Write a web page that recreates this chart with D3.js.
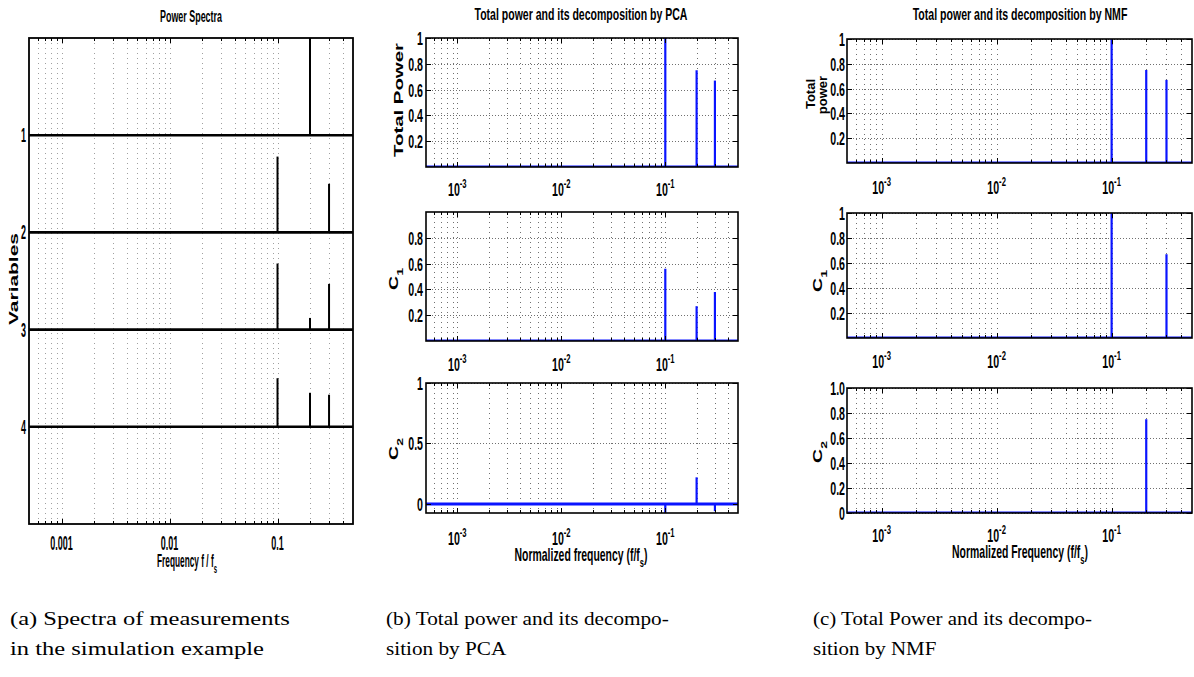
<!DOCTYPE html>
<html>
<head>
<meta charset="utf-8">
<script src="https://cdn.jsdelivr.net/npm/d3@7"></script>
<style>
  html, body { margin: 0; padding: 0; background: #fff; }
  svg { display: block; }
</style>
</head>
<body>
<svg id="chart" width="1194" height="677"></svg>
<script>
// ---------------- DATA ----------------
const freqDomain = [0.0005, 0.5];
const peakFreqs = [0.1, 0.2, 0.3];

// (a) power spectra of the four measured variables (peak heights in row units)
const variableNames = ["1", "2", "3", "4"];
const spectraVar1 = [0.0, 1.0, 0.0];
const spectraVar2 = [0.78, 0.0, 0.50];
const spectraVar3 = [0.68, 0.12, 0.47];
const spectraVar4 = [0.50, 0.35, 0.33];

// (b) PCA
const pcaTotal = [1.0, 0.75, 0.67];
const pcaC1 = [0.56, 0.27, 0.38];
const pcaC2 = [-0.09, 0.22, -0.06];

// (c) NMF
const nmfTotal = [1.0, 0.75, 0.67];
const nmfC1 = [1.0, 0.0, 0.67];
const nmfC2 = [0.0, 0.75, 0.0];

// tick values / labels
const aTickValues = [0.001, 0.01, 0.1];
const aTickLabels = ["0.001", "0.01", "0.1"];
const decadeValues = [0.001, 0.01, 0.1];
const decadeExponents = ["-3", "-2", "-1"];

const yTicksTotal = [0.2, 0.4, 0.6, 0.8, 1];
const yLabelsTotal = ["0.2", "0.4", "0.6", "0.8", "1"];
const yTicksPcaC1 = [0.2, 0.4, 0.6, 0.8];
const yLabelsPcaC1 = ["0.2", "0.4", "0.6", "0.8"];
const yTicksPcaC2 = [0, 0.5, 1];
const yLabelsPcaC2 = ["0", "0.5", "1"];
const yTicksNmfC1 = [0.2, 0.4, 0.6, 0.8, 1];
const yLabelsNmfC1 = ["0.2", "0.4", "0.6", "0.8", "1"];
const yTicksNmfC2 = [0, 0.2, 0.4, 0.6, 0.8, 1.0];
const yLabelsNmfC2 = ["0", "0.2", "0.4", "0.6", "0.8", "1.0"];

// ---------------- DRAWING ----------------
const SANS = "'Liberation Sans', Arial, Helvetica, sans-serif";
const SERIF = "'Liberation Serif', 'DejaVu Serif', serif";
const BLUE = "#0a14ff";
const svg = d3.select("#chart");
const defs = svg.append("defs");
let clipN = 0;

function logGridValues() {
  const out = [];
  for (let e = -4; e <= -1; e++) {
    for (let k = 1; k <= 9; k++) {
      const v = k * Math.pow(10, e);
      if (v > freqDomain[0] * 1.001 && v < freqDomain[1] * 0.999) out.push(v);
    }
  }
  return out;
}

// text helper: parts are strings or {t, sub} / {t, sup}
function label(parent, x, y, parts, o) {
  const outer = parent.append("g")
    .attr("transform", `translate(${x},${y})` + (o.rotate ? ` rotate(${o.rotate})` : ""));
  const t = outer.append("text")
    .attr("text-anchor", o.anchor || "middle")
    .attr("font-family", o.family || SANS)
    .attr("font-weight", o.weight || "bold")
    .attr("font-size", o.size)
    .attr("fill", "#000");
  let shift = 0;
  parts.forEach(p => {
    const ts = t.append("tspan");
    if (typeof p === "string") {
      ts.text(p).attr("dy", -shift);
      shift = 0;
    } else {
      const d = p.sub ? o.size * 0.35 : -o.size * 0.42;
      ts.text(p.t).attr("font-size", o.size * 0.72).attr("dy", d - shift);
      shift = d;
    }
  });
  let sx = o.sx || 1;
  if (o.width) sx = o.width / t.node().getComputedTextLength();
  t.attr("transform", `scale(${sx},1)`);
  return { t, sx };
}

function makeAxes(o) {
  const g = svg.append("g");
  const x = d3.scaleLog().domain(freqDomain).range([o.left, o.right]);
  const y = d3.scaleLinear().domain(o.yDomain).range(o.yRange || [o.bottom, o.top]);
  const id = "clip" + (clipN++);
  defs.append("clipPath").attr("id", id).append("rect")
    .attr("x", o.left).attr("y", o.top)
    .attr("width", o.right - o.left).attr("height", o.bottom - o.top);

  g.append("g").selectAll("line").data(logGridValues()).join("line")
    .attr("x1", d => Math.round(x(d)) + 0.5).attr("x2", d => Math.round(x(d)) + 0.5)
    .attr("y1", o.top).attr("y2", o.bottom)
    .attr("stroke", o.gridColor).attr("stroke-width", 1)
    .attr("stroke-dasharray", "1,4");
  g.append("g").selectAll("line").data(o.yTicks).join("line")
    .attr("x1", o.left).attr("x2", o.right)
    .attr("y1", d => Math.round(y(d)) + 0.5).attr("y2", d => Math.round(y(d)) + 0.5)
    .attr("stroke", o.gridColor).attr("stroke-width", 1)
    .attr("stroke-dasharray", "1,2");

  const data = g.append("g").attr("clip-path", `url(#${id})`);
  return { g, data, x, y, o };
}

function finishAxes(ax) {
  const { g, x, y, o } = ax;
  g.append("rect").attr("x", o.left).attr("y", o.top)
    .attr("width", o.right - o.left).attr("height", o.bottom - o.top)
    .attr("fill", "none").attr("stroke", "#000").attr("stroke-width", o.frameWidth || 1.6);
  const minor = logGridValues();
  const isMajor = v => Math.abs(Math.log10(v) - Math.round(Math.log10(v))) < 1e-6;
  const tk = g.append("g").attr("stroke", "#000").attr("stroke-width", 1);
  minor.forEach(v => {
    const L = isMajor(v) ? 5 : 3;
    const xx = Math.round(x(v)) + 0.5;
    tk.append("line").attr("x1", xx).attr("x2", xx).attr("y1", o.bottom).attr("y2", o.bottom - L);
    tk.append("line").attr("x1", xx).attr("x2", xx).attr("y1", o.top).attr("y2", o.top + L);
  });
  o.yTicks.forEach(v => {
    const yy = Math.round(y(v)) + 0.5;
    tk.append("line").attr("x1", o.left).attr("x2", o.left + 5).attr("y1", yy).attr("y2", yy);
    tk.append("line").attr("x1", o.right).attr("x2", o.right - 5).attr("y1", yy).attr("y2", yy);
  });
  o.yTicks.forEach((v, i) => {
    label(g, o.yLabelX, y(v) + o.yLabelDy, [o.yLabels[i]],
      { size: o.tickSize, sx: o.tickSx, anchor: "end" });
  });
  if (o.decadeLabels) {
    decadeValues.forEach((v, i) => {
      label(g, x(v), o.xLabelBase, ["10", { t: decadeExponents[i], sup: true }],
        { size: o.tickSize, sx: o.tickSx });
    });
  } else {
    aTickValues.forEach((v, i) => {
      label(g, x(v), o.xLabelBase, [aTickLabels[i]], { size: o.tickSize, sx: o.tickSx });
    });
  }
}

function spikes(ax, values, color, width) {
  ax.data.append("g").selectAll("line")
    .data(peakFreqs.map((f, i) => ({ f, v: values[i] })).filter(d => d.v !== 0))
    .join("line")
    .attr("x1", d => ax.x(d.f)).attr("x2", d => ax.x(d.f))
    .attr("y1", ax.y(0)).attr("y2", d => ax.y(d.v))
    .attr("stroke", color).attr("stroke-width", width);
}
function baseline(ax, color, width) {
  ax.data.append("line")
    .attr("x1", ax.x(freqDomain[0])).attr("x2", ax.x(freqDomain[1]))
    .attr("y1", ax.y(0)).attr("y2", ax.y(0))
    .attr("stroke", color).attr("stroke-width", width);
}

// ---------- Panel (a) ----------
{
  const rows = [spectraVar1, spectraVar2, spectraVar3, spectraVar4];
  const rowIdx = [1, 2, 3, 4];
  const ax = makeAxes({
    left: 29, right: 353, top: 38, bottom: 524,
    yDomain: [0, 5], yRange: [38, 524],
    yTicks: rowIdx, yLabels: variableNames,
    gridColor: "#a0a0a0",
    tickSize: 20, tickSx: 0.45, yLabelX: 26, yLabelDy: 7,
    xLabelBase: 550, decadeLabels: false, frameWidth: 1.8
  });
  rows.forEach((vals, r) => {
    const base = rowIdx[r];
    ax.data.append("line")
      .attr("x1", ax.x(freqDomain[0])).attr("x2", ax.x(freqDomain[1]))
      .attr("y1", ax.y(base)).attr("y2", ax.y(base))
      .attr("stroke", "#000").attr("stroke-width", 2.6);
    ax.data.append("g").selectAll("line")
      .data(peakFreqs.map((f, i) => ({ f, v: vals[i] })).filter(d => d.v !== 0))
      .join("line")
      .attr("x1", d => ax.x(d.f)).attr("x2", d => ax.x(d.f))
      .attr("y1", ax.y(base)).attr("y2", d => ax.y(base - d.v))
      .attr("stroke", "#000").attr("stroke-width", 2);
  });
  finishAxes(ax);
  label(svg, 191, 22, ["Power Spectra"], { size: 17, width: 62 });
  label(svg, 187, 567, ["Frequency f / f", { t: "s", sub: true }], { size: 18, width: 60 });
  label(svg, 18, 279, ["Variables"], { size: 13, width: 92, rotate: -90 });
}

// ---------- Panels (b) and (c) ----------
function subplot(cfg) {
  const ax = makeAxes(Object.assign({
    gridColor: "#707070", tickSize: 19, tickSx: 0.56, yLabelDy: 7, decadeLabels: true
  }, cfg));
  baseline(ax, BLUE, 3);
  spikes(ax, cfg.values, BLUE, 2.2);
  finishAxes(ax);
  return ax;
}

// (b) PCA
subplot({ left: 426, right: 738, top: 38, bottom: 167, yDomain: [0, 1],
  yTicks: yTicksTotal, yLabels: yLabelsTotal, yLabelX: 423, xLabelBase: 196, values: pcaTotal });
subplot({ left: 426, right: 738, top: 212, bottom: 341, yDomain: [0, 1],
  yTicks: yTicksPcaC1, yLabels: yLabelsPcaC1, yLabelX: 423, xLabelBase: 371, values: pcaC1 });
subplot({ left: 426, right: 738, top: 383, bottom: 513, yDomain: [-0.075, 1],
  yTicks: yTicksPcaC2, yLabels: yLabelsPcaC2, yLabelX: 423, xLabelBase: 545, values: pcaC2 });

label(svg, 581, 20, ["Total power and its decomposition by PCA"], { size: 17, width: 213 });
label(svg, 403, 100, ["Total Power"], { size: 13, width: 114, rotate: -90 });
label(svg, 398, 279, ["C", { t: "1", sub: true }], { size: 13, sx: 1.5, rotate: -90 });
label(svg, 398, 449, ["C", { t: "2", sub: true }], { size: 13, sx: 1.5, rotate: -90 });
label(svg, 581, 561, ["Normalized frequency (f/f", { t: "s", sub: true }, ")"], { size: 18, width: 133 });

// (c) NMF
subplot({ left: 847, right: 1192, top: 39, bottom: 163, yDomain: [0, 1],
  yTicks: yTicksTotal, yLabels: yLabelsTotal, yLabelX: 845, xLabelBase: 194, values: nmfTotal });
subplot({ left: 847, right: 1192, top: 213, bottom: 338, yDomain: [0, 1],
  yTicks: yTicksNmfC1, yLabels: yLabelsNmfC1, yLabelX: 845, xLabelBase: 368, values: nmfC1 });
subplot({ left: 847, right: 1192, top: 388, bottom: 513, yDomain: [0, 1],
  yTicks: yTicksNmfC2, yLabels: yLabelsNmfC2, yLabelX: 845, xLabelBase: 542, values: nmfC2 });

label(svg, 1020, 20, ["Total power and its decomposition by NMF"], { size: 17, width: 215 });
label(svg, 815, 94, ["Total"], { size: 13, rotate: -90 });
label(svg, 827, 95, ["power"], { size: 13, rotate: -90 });
label(svg, 822, 281, ["C", { t: "1", sub: true }], { size: 13, sx: 1.5, rotate: -90 });
label(svg, 822, 452, ["C", { t: "2", sub: true }], { size: 13, sx: 1.5, rotate: -90 });
label(svg, 1020, 558, ["Normalized Frequency (f/f", { t: "s", sub: true }, ")"], { size: 18, width: 136 });

// ---------- Captions ----------
const captions = [
  { x: 10, w: 280, lines: ["(a) Spectra of measurements", "in the simulation example"] },
  { x: 386, w: 283, lines: ["(b) Total power and its decompo-", "sition by PCA"] },
  { x: 813, w: 279, lines: ["(c) Total Power and its decompo-", "sition by NMF"] }
];
captions.forEach(c => {
  const first = label(svg, c.x, 625, [c.lines[0]],
    { size: 18, family: SERIF, weight: "normal", anchor: "start", width: c.w });
  label(svg, c.x, 655, [c.lines[1]],
    { size: 18, family: SERIF, weight: "normal", anchor: "start", sx: first.sx });
});
</script>
</body>
</html>
